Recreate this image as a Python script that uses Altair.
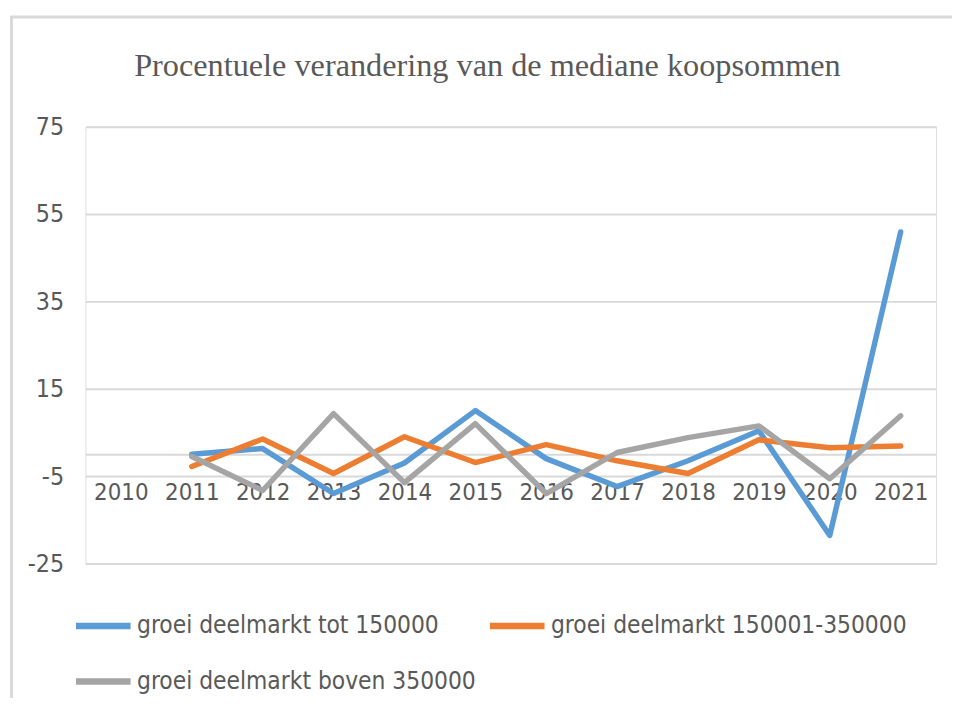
import altair as alt
import pandas as pd

years = ["2010", "2011", "2012", "2013", "2014", "2015", "2016", "2017", "2018", "2019", "2020", "2021"]
series_names = [
    "groei deelmarkt tot 150000",
    "groei deelmarkt 150001-350000",
    "groei deelmarkt boven 350000",
]
tot_150000 = [None, 0.0, 1.3, -9.0, -2.0, 10.0, -1.0, -7.4, -1.5, 5.4, -18.6, 50.9]
mid_range = [None, -2.8, 3.5, -4.4, 4.0, -1.9, 2.2, -1.5, -4.4, 3.3, 1.5, 1.9]
boven_350000 = [None, -0.5, -8.3, 9.3, -6.5, 7.0, -9.0, 0.4, 3.8, 6.5, -5.6, 8.8]
y_ticks = [-25, -5, 15, 35, 55, 75]
colors = ["#5B9BD5", "#ED7D31", "#A5A5A5"]
title_text = ["Procentuele verandering van de mediane koopsommen"]

rows = []
for name, vals in zip(series_names, [tot_150000, mid_range, boven_350000]):
    for yr, v in zip(years, vals):
        rows.append({"jaar": yr, "serie": name, "waarde": v})
df = pd.DataFrame(rows)

label_font = "DejaVu Sans Condensed, Liberation Sans Narrow, Liberation Sans, sans-serif"
text_color = "#595959"

lines = alt.Chart(df).mark_line(strokeWidth=5.5, strokeCap="round", strokeJoin="round").encode(
    x=alt.X("jaar:O", sort=years, scale=alt.Scale(type="point", padding=0.5),
            axis=alt.Axis(title=None, labelAngle=0, ticks=False, offset=-110,
                          domainColor="#D9D9D9", domainWidth=2, labelPadding=27,
                          labelFont=label_font, labelFontSize=24, labelColor=text_color)),
    y=alt.Y("waarde:Q", scale=alt.Scale(domain=[-25, 75], nice=False, zero=False),
            axis=alt.Axis(title=None, values=y_ticks, ticks=False, domain=False,
                          labelExpr="'' + datum.value",
                          gridColor="#D9D9D9", gridWidth=2, labelPadding=22,
                          labelFont=label_font, labelFontSize=25, labelColor=text_color)),
    color=alt.Color("serie:N", sort=series_names,
                    scale=alt.Scale(domain=series_names, range=colors),
                    legend=alt.Legend(title=None, orient="none", legendX=-13, legendY=472,
                                      columns=2, direction="horizontal",
                                      symbolType="stroke", symbolSize=3025, symbolStrokeWidth=6.5,
                                      labelFont=label_font, labelFontSize=24.5, labelColor=text_color,
                                      labelLimit=600, labelOffset=3, rowPadding=12, columnPadding=0)),
    order=alt.Order("jaar:O"),
)

title = alt.Chart(pd.DataFrame({"t": title_text})).mark_text(
    font="Liberation Serif", fontSize=32.5, color=text_color, align="center", baseline="alphabetic"
).encode(text="t:N", x=alt.value(405), y=alt.value(-51))

frame = alt.Chart(pd.DataFrame({"k": [0]})).mark_rect(
    fill="transparent", stroke="#D9D9D9", strokeWidth=3
).encode(
    x=alt.value(-74.5), x2=alt.value(1000), y=alt.value(-110.5), y2=alt.value(900)
)

chart = alt.layer(frame, title, lines).properties(
    width=857,
    height=440,
    autosize=alt.AutoSizeParams(type="none"),
    padding={"left": 78, "top": 117, "right": 16, "bottom": 133},
).configure_view(stroke=None).configure(background="white")

chart.save("out.html", embed_options={"renderer": "svg", "actions": False})
